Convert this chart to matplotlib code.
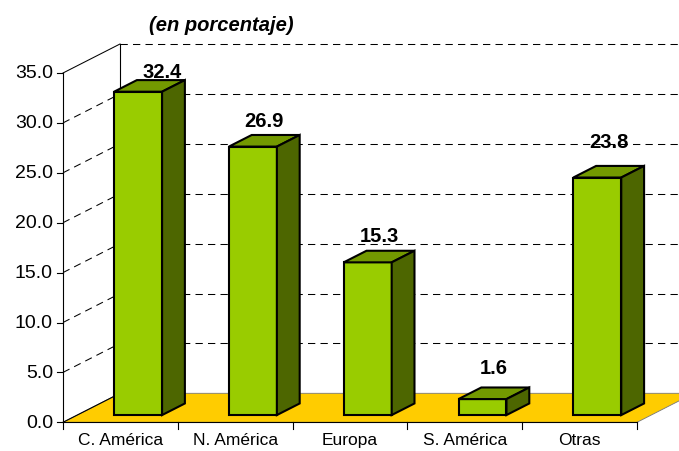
import matplotlib
matplotlib.use("Agg")
from matplotlib import pyplot as plt
from matplotlib.patches import Polygon

plt.rcParams["font.family"] = ["Liberation Sans", "DejaVu Sans"]

categories = ["C. América", "N. América", "Europa", "S. América", "Otras"]
values = [32.4, 26.9, 15.3, 1.6, 23.8]
y_ticks = [0, 5, 10, 15, 20, 25, 30, 35]
title = "(en porcentaje)"

# pixel scale of the reference: one category = 114.8 px, one unit = 9.98 px
PX_X = 114.8
PX_Y = 9.98
DX = 57 / PX_X   # depth of the floor, in category units
DY = 29 / PX_Y   # depth of the floor, in value units
Y_TOP = 35

# bar geometry (fraction of floor depth, width in category units)
F0, F1 = 0.25, 0.65
W = 0.418
SHIFT = 0.03
# small per-label nudges in px (dx, dy), labels were hand placed
label_nudge = [(13, -6.5), (0, -0.5), (0, 0), (0, 4.5), (0, 9)]

FRONT = "#99CC00"
TOP = "#739900"
SIDE = "#4D6600"
FLOOR = "#FFCC00"

fig = plt.figure(figsize=(6.79, 4.52), dpi=100)
ax = fig.add_axes([0, 0, 1, 1])
ax.set_xlim(-63 / PX_X, (679 - 63) / PX_X)
ax.set_ylim(-(452 - 423.3) / PX_Y, 423.3 / PX_Y)
ax.axis("off")

n = len(categories)
dash = (0, (7, 5))

# back wall and left wall gridlines
for v in y_ticks[1:]:
    ax.plot([DX, n + DX], [v + DY, v + DY], color="black", lw=0.75,
            linestyle=dash, zorder=1)
    ax.plot([0, DX], [v, v + DY], color="black", lw=0.75,
            linestyle="-" if v == Y_TOP else dash, zorder=1)
ax.plot([DX, DX], [DY, Y_TOP + DY], color="black", lw=0.8, zorder=1)

# floor
floor = Polygon([(0, 0), (n, 0), (n + DX, DY), (DX, DY)], closed=True,
                facecolor=FLOOR, edgecolor="#777777", lw=0.6, zorder=2)
ax.add_patch(floor)
ax.plot([0, DX], [0, DY], color="black", lw=0.8, zorder=3)

# axes lines and ticks
ax.plot([0, 0], [0, Y_TOP], color="black", lw=0.8, zorder=3)
ax.plot([0, n], [0, 0], color="black", lw=0.8, zorder=3)
for v in y_ticks:
    ax.plot([-6 / PX_X, 0], [v, v], color="black", lw=0.8, zorder=3)
    ax.text(-10 / PX_X, v, f"{v:.1f}", ha="right", va="center", fontsize=14)
for i in range(n + 1):
    ax.plot([i, i], [0, -7 / PX_Y], color="black", lw=0.8, zorder=3)
for i, c in enumerate(categories):
    ax.text(i + 0.5, -10 / PX_Y, c, ha="center", va="top", fontsize=12.5)

# 3d bars
for i, v in enumerate(values):
    x0 = i + 0.5 - W / 2 + SHIFT + F0 * DX
    y0 = F0 * DY
    ddx = (F1 - F0) * DX
    ddy = (F1 - F0) * DY
    kw = dict(closed=True, edgecolor="black", lw=1.5, joinstyle="miter", zorder=5 + i)
    ax.add_patch(Polygon([(x0, y0), (x0 + W, y0), (x0 + W, y0 + v), (x0, y0 + v)],
                         facecolor=FRONT, **kw))
    ax.add_patch(Polygon([(x0, y0 + v), (x0 + W, y0 + v), (x0 + W + ddx, y0 + v + ddy),
                          (x0 + ddx, y0 + v + ddy)], facecolor=TOP, **kw))
    ax.add_patch(Polygon([(x0 + W, y0), (x0 + W + ddx, y0 + ddy), (x0 + W + ddx, y0 + v + ddy),
                          (x0 + W, y0 + v)], facecolor=SIDE, **kw))
    ndx, ndy = label_nudge[i]
    ax.text(x0 + W / 2 + ddx / 2 + ndx / PX_X, y0 + v + ddy + (15 + ndy) / PX_Y,
            f"{v:.1f}", ha="center", va="center", fontsize=14.5,
            fontweight="bold", zorder=20)

ax.text((221 - 63) / PX_X, (423.3 - 26) / PX_Y, title, ha="center", va="center",
        fontsize=14.5, fontweight="bold", fontstyle="italic")

fig.savefig("out.png", dpi=100)
